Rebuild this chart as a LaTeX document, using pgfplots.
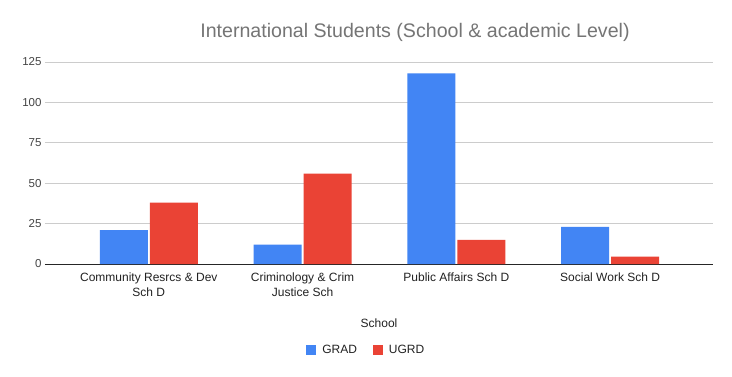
\documentclass[border=0pt]{standalone}
\usepackage{pgfplots}
\pgfplotsset{compat=1.18}
\usepackage{fontspec}
\setmainfont{Liberation Sans}
\definecolor{gblue}{HTML}{4285F4}
\definecolor{gred}{HTML}{EA4335}
\definecolor{ticktext}{HTML}{444444}
\definecolor{titletext}{HTML}{757575}
\definecolor{gridc}{HTML}{CCCCCC}
\definecolor{labtext}{HTML}{222222}
\begin{document}
\begin{tikzpicture}[x=1pt,y=1pt]
\path[fill=white] (0,0) rectangle (732,376);
\begin{axis}[
  at={(45pt,112pt)}, anchor=south west,
  scale only axis, width=668pt, height=202pt,
  xmin=-0.675, xmax=3.669, ymin=0, ymax=125,
  ybar=2pt, bar width=48pt,
  xtick={0,1,2,3},
  xticklabels={{Community Resrcs \& Dev\\Sch D},{Criminology \& Crim\\Justice Sch},{Public Affairs Sch D},{Social Work Sch D}},
  xticklabel style={align=center, font=\fontsize{12}{15}\selectfont, text=labtext, yshift=-1pt},
  ytick={0,25,50,75,100,125},
  yticklabel style={font=\fontsize{11.5}{13}\selectfont, text=ticktext},
  /pgf/number format/assume math mode=true,
  extra y ticks={0}, extra y tick labels={},
  extra y tick style={major grid style={draw=black!85, line width=1pt}},
  ymajorgrids, major grid style={draw=gridc, line width=0.8pt},
  axis line style={draw=none}, tick style={draw=none},
  xlabel={School},
  xlabel style={at={(axis description cs:0.5,-0.292)}, anchor=center, font=\fontsize{12}{14}\selectfont, text=labtext},
  legend style={at={(0.481,-0.426)}, anchor=center, draw=none, legend columns=2,
     font=\fontsize{12}{14}\selectfont, text=labtext,
     /tikz/every odd column/.append style={column sep=4pt},
     /tikz/every even column/.append style={column sep=14pt}},
  legend image code/.code={\fill[#1,draw=none] (0pt,-5pt) rectangle (10pt,5pt);},
]
\addplot[fill=gblue, draw=none] coordinates {(0,21) (1,12) (2,118) (3,23)};
\addplot[fill=gred, draw=none] coordinates {(0,38) (1,56) (2,15) (3,4.5)};
\legend{GRAD,UGRD}
\end{axis}
\node[text=titletext, font=\fontsize{19.6}{23}\selectfont, anchor=center] at (415,344) {International Students (School \& academic Level)};
\end{tikzpicture}
\end{document}
